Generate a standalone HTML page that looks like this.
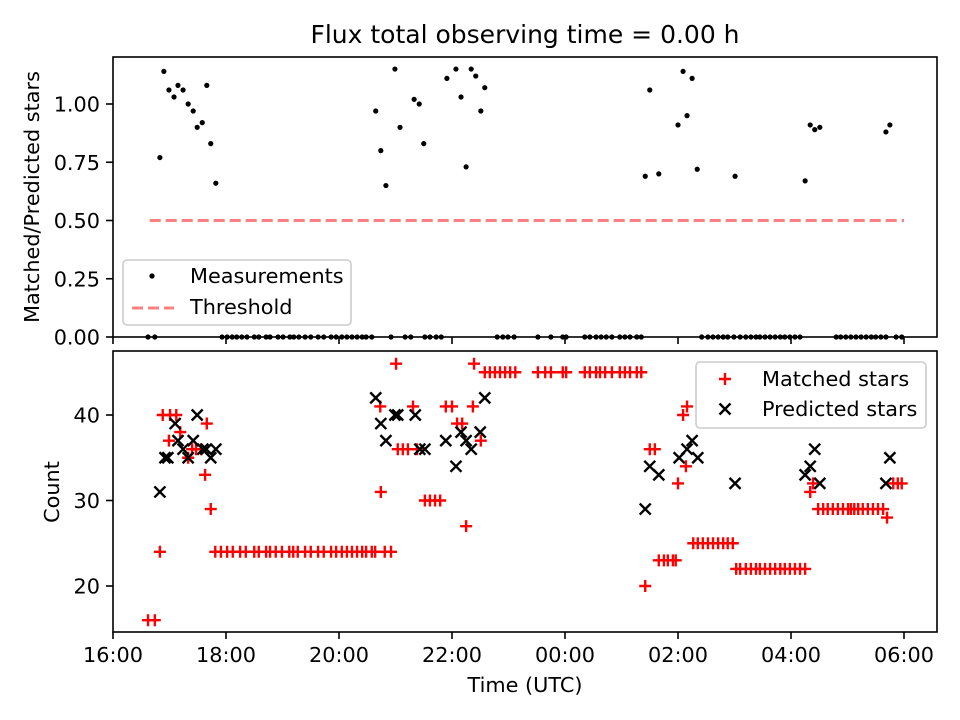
<!DOCTYPE html>
<html><head><meta charset="utf-8"><style>
body{margin:0;background:#fff}
svg{display:block;font-family:"DejaVu Sans","Liberation Sans",sans-serif}
</style></head><body>
<svg id="chart" width="960" height="720" viewBox="0 0 960 720" xmlns="http://www.w3.org/2000/svg">
<rect width="960" height="720" fill="#fff"/>
<text x="525" y="43" font-size="25" text-anchor="middle">Flux total observing time = 0.00 h</text>
<g id="topPanel"></g>
<g id="botPanel"></g>
</svg>
<script>
// hours since 16:00 UTC
const ratioTimes=[0.83,0.90,0.99,1.08,1.15,1.24,1.33,1.42,1.49,1.58,1.66,1.73,1.82,4.65,4.74,4.83,4.99,5.08,5.33,5.42,5.50,5.91,6.07,6.16,6.25,6.34,6.42,6.51,6.58,9.42,9.50,9.66,10.00,10.09,10.16,10.25,10.34,11.01,12.25,12.34,12.42,12.51,13.68,13.75];
const ratioValues=[0.77,1.14,1.06,1.03,1.08,1.06,1.00,0.97,0.90,0.92,1.08,0.83,0.66,0.97,0.80,0.65,1.15,0.90,1.02,1.00,0.83,1.11,1.15,1.03,0.73,1.15,1.12,0.97,1.07,0.69,1.06,0.70,0.91,1.14,0.95,1.11,0.72,0.69,0.67,0.91,0.89,0.90,0.88,0.91];
const zeroTimes=[0.62,0.74,1.93,2.02,2.11,2.19,2.28,2.37,2.50,2.58,2.71,2.78,2.92,3.01,3.13,3.20,3.29,3.40,3.50,3.63,3.73,3.86,3.95,4.05,4.14,4.23,4.32,4.41,4.48,4.58,4.92,5.17,5.27,5.52,5.61,5.72,5.81,6.80,6.90,6.99,7.10,7.52,7.75,7.96,8.02,8.35,8.44,8.55,8.64,8.73,8.83,8.97,9.06,9.15,9.27,9.35,10.42,10.53,10.62,10.71,10.80,10.88,10.99,11.10,11.20,11.29,11.38,11.45,11.54,11.63,11.72,11.81,11.89,11.98,12.07,12.16,12.80,12.88,12.97,13.06,13.15,13.24,13.33,13.42,13.50,13.59,13.68,13.86,13.96];
const thresholdValue=0.5;
const thresholdRange=[0.65,14.0];
const matchedTimes=[0.62,0.74,0.83,0.88,1.01,1.12,0.99,1.19,1.33,1.40,1.47,1.56,1.63,1.66,1.73,
1.81,1.91,2.02,2.12,2.25,2.35,2.50,2.58,2.71,2.78,2.88,2.99,3.12,3.19,3.27,3.40,3.50,3.63,3.73,3.86,3.95,4.05,4.14,4.23,4.32,4.41,4.48,4.58,4.64,4.81,4.92,
4.73,4.74,5.01,5.04,5.13,5.22,5.31,5.38,5.52,5.61,5.70,5.79,5.89,6.00,6.09,6.18,6.25,6.39,6.37,6.51,
6.58,6.67,6.76,6.85,6.94,7.03,7.12,7.52,7.65,7.75,7.96,8.02,8.35,8.44,8.55,8.62,8.71,8.83,8.97,9.06,9.15,9.27,9.35,
9.42,9.50,9.59,9.66,9.75,9.82,9.91,9.96,10.00,10.09,10.16,10.14,
10.27,10.35,10.44,10.53,10.62,10.71,10.80,10.88,10.97,
11.03,11.10,11.20,11.29,11.38,11.45,11.54,11.63,11.72,11.81,11.89,11.98,12.07,12.16,12.25,
12.34,12.39,12.48,12.57,12.65,12.74,12.83,12.92,13.01,13.06,13.12,13.19,13.27,13.36,13.45,13.54,13.63,13.70,13.81,13.89,13.96];
const matchedValues=[16,16,24,40,40,40,37,38,35,36,36,36,33,39,29,
24,24,24,24,24,24,24,24,24,24,24,24,24,24,24,24,24,24,24,24,24,24,24,24,24,24,24,24,24,24,24,
41,31,46,36,36,36,41,36,30,30,30,30,41,41,39,39,27,46,41,37,
45,45,45,45,45,45,45,45,45,45,45,45,45,45,45,45,45,45,45,45,45,45,45,
20,36,36,23,23,23,23,23,32,40,41,34,
25,25,25,25,25,25,25,25,25,
22,22,22,22,22,22,22,22,22,22,22,22,22,22,22,
31,32,29,29,29,29,29,29,29,29,29,29,29,29,29,29,29,28,32,32,32];
const predictedTimes=[0.83,0.92,0.97,1.10,1.15,1.24,1.33,1.42,1.49,1.59,1.65,1.73,1.82,4.65,4.74,4.83,4.99,5.04,5.35,5.43,5.52,5.89,6.07,6.16,6.25,6.34,6.50,6.58,9.42,9.50,9.66,10.02,10.16,10.25,10.35,11.01,12.25,12.34,12.42,12.51,13.68,13.75];
const predictedValues=[31,35,35,39,37,36,35,37,40,36,36,35,36,42,39,37,40,40,40,36,36,37,34,38,37,36,38,42,29,34,33,35,36,37,35,32,33,34,36,32,32,35];
const xTickLabels=["16:00","18:00","20:00","22:00","00:00","02:00","04:00","06:00"];
const xTickHours=[0,2,4,6,8,10,12,14];
const topTicks=[0,0.25,0.5,0.75,1.0];
const botTicks=[20,30,40];

const NS="http://www.w3.org/2000/svg";
const L=113,R=937,FS=20.8;
const xScale=h=>L+h*56.5;
const yTop=v=>337-v*233;
const yBot=v=>586-(v-20)*8.55;
function mk(parent,tag,attrs,txt){const e=document.createElementNS(NS,tag);for(const k in attrs)e.setAttribute(k,attrs[k]);if(txt!==undefined)e.textContent=txt;parent.appendChild(e);return e;}
const topG=document.getElementById('topPanel'),botG=document.getElementById('botPanel');

function axes(g,y0,y1,ticks,ys,fmt,showX){
  for(let i=0;i<xTickHours.length;i++){
    const x=xScale(xTickHours[i]);
    const t=mk(g,'line',{x1:x,x2:x,y1:y1,y2:y1+7,stroke:'#000','stroke-width':1.6});
    
    
    if(showX){const l=mk(g,'text',{x:x,y:y1+30,'font-size':FS,'text-anchor':'middle'},xTickLabels[i]);
      
      }
  }
  for(const v of ticks){
    const y=ys(v);
    const t=mk(g,'line',{x1:L-7,x2:L,y1:y,y2:y,stroke:'#000','stroke-width':1.6});
    
    
    const l=mk(g,'text',{x:L-13,y:y+7.5,'font-size':FS,'text-anchor':'end'},fmt(v));
    
    
  }
}
function frame(g,y0,y1){const f=mk(g,'rect',{x:L,y:y0,width:R-L,height:y1-y0,fill:'none',stroke:'#000','stroke-width':1.6});
  
  }

// top panel
const tl=mk(topG,'line',{x1:xScale(thresholdRange[0]),x2:xScale(thresholdRange[1]),y1:yTop(thresholdValue),y2:yTop(thresholdValue),stroke:'#ff8080','stroke-width':3,'stroke-dasharray':'11,5'});


for(let i=0;i<ratioTimes.length;i++){
  const c=mk(topG,'circle',{cx:xScale(ratioTimes[i]),cy:yTop(ratioValues[i]),r:2.6,fill:'#000'});
  
  
}
for(const t of zeroTimes){
  const c=mk(topG,'circle',{cx:xScale(t),cy:yTop(0),r:2.6,fill:'#000'});
  
  
}
frame(topG,57,337);
axes(topG,57,337,topTicks,yTop,v=>v.toFixed(2),false);
const yl1=mk(topG,'text',{x:39,y:197,'font-size':FS,'text-anchor':'middle',transform:'rotate(-90 39 197)'},'Matched/Predicted stars');


const lg1=mk(topG,'g',{});


mk(lg1,'rect',{x:123,y:260,width:228,height:65,rx:4,fill:'#fff','fill-opacity':0.8,stroke:'#ccc','stroke-width':1.6});
mk(lg1,'circle',{cx:152,cy:276,r:2.6,fill:'#000'});
mk(lg1,'text',{x:190,y:283,'font-size':FS},'Measurements');
mk(lg1,'line',{x1:132,x2:174,y1:308,y2:308,stroke:'#ff8080','stroke-width':3,'stroke-dasharray':'11,5'});
mk(lg1,'text',{x:190,y:314,'font-size':FS},'Threshold');

// bottom panel
function plus(g,x,y){mk(g,'path',{d:`M${x-6},${y}H${x+6}M${x},${y-6}V${y+6}`,stroke:'#f00','stroke-width':2.4,fill:'none'});}
function cross(g,x,y){mk(g,'path',{d:`M${x-5.5},${y-5.5}L${x+5.5},${y+5.5}M${x-5.5},${y+5.5}L${x+5.5},${y-5.5}`,stroke:'#000','stroke-width':2.4,fill:'none'});}
for(let i=0;i<matchedTimes.length;i++){
  const g=mk(botG,'g',{});
  
  
  plus(g,xScale(matchedTimes[i]),yBot(matchedValues[i]));
}
for(let i=0;i<predictedTimes.length;i++){
  const g=mk(botG,'g',{});
  
  
  cross(g,xScale(predictedTimes[i]),yBot(predictedValues[i]));
}
frame(botG,351,632);
axes(botG,351,632,botTicks,yBot,v=>String(v),true);
const yl2=mk(botG,'text',{x:59,y:492,'font-size':FS,'text-anchor':'middle',transform:'rotate(-90 59 492)'},'Count');


const xl=mk(botG,'text',{x:525,y:692,'font-size':FS,'text-anchor':'middle'},'Time (UTC)');


const lg2=mk(botG,'g',{});


mk(lg2,'rect',{x:696,y:362,width:230,height:66,rx:4,fill:'#fff','fill-opacity':0.8,stroke:'#ccc','stroke-width':1.6});
plus(lg2,725,379);
mk(lg2,'text',{x:762,y:386,'font-size':FS},'Matched stars');
cross(lg2,725,409);
mk(lg2,'text',{x:762,y:416,'font-size':FS},'Predicted stars');
</script>
</body></html>
